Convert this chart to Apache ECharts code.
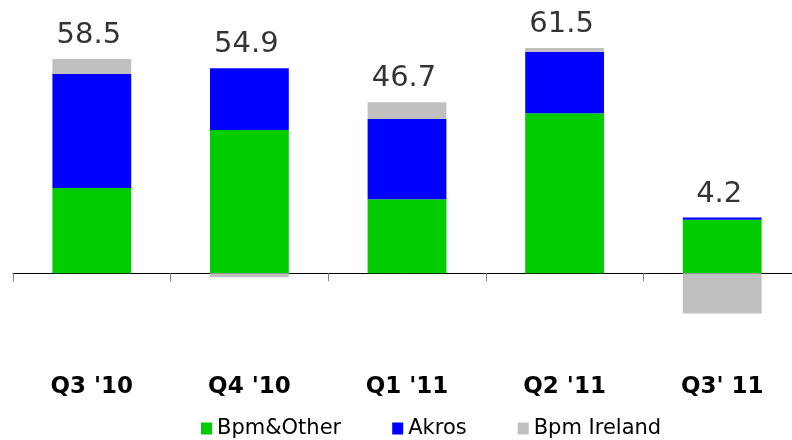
<!DOCTYPE html>
<html>
<head>
<meta charset="utf-8">
<script src="https://cdn.jsdelivr.net/npm/echarts@6/dist/echarts.min.js"></script>
<style>
  html, body { margin: 0; padding: 0; background: #fff; }
  #chart { width: 792px; height: 440px; }
</style>
</head>
<body>
<div id="chart"></div>
<script>
const categories = ["Q3 '10", "Q4 '10", "Q1 '11", "Q2 '11", "Q3' 11"];
const bpmOther = [23.3, 39.1, 20.2, 43.7, 14.6];
const akros = [31.1, 16.9, 21.9, 16.8, 0.6];
const bpmIreland = [4.1, -1.1, 4.6, 1.0, -11.0];
const totals = [58.5, 54.9, 46.7, 61.5, 4.2];

// top of positive stack, where the total label sits
const stackTop = categories.map((c, i) =>
  [bpmOther[i], akros[i], bpmIreland[i]].filter((v) => v > 0).reduce((a, b) => a + b, 0)
);

const font = "DejaVu Sans, Verdana, sans-serif";

function barSeries(name, data, color) {
  return {
    name: name,
    type: "bar",
    stack: "total",
    barWidth: "50%",
    itemStyle: { color: color },
    data: data,
  };
}

const option = {
  animation: false,
  grid: {
    left: 13,
    top: 17,
    width: 788,
    height: 329.4,
    outerBoundsMode: "none",
    containLabel: false,
  },
  legend: {
    data: ["Bpm&Other", "Akros", "Bpm Ireland"],
    left: 196,
    top: 413,
    itemWidth: 11,
    itemHeight: 12,
    itemGap: 51,
    icon: "rect",
    textStyle: {
      fontFamily: font,
      fontSize: 21,
      color: "#000",
    },
  },
  xAxis: {
    type: "category",
    data: categories,
    axisLine: {
      show: true,
      lineStyle: { color: "#000", width: 1 },
    },
    axisTick: {
      show: true,
      length: 8,
      lineStyle: { color: "#808080" },
    },
    axisLabel: {
      margin: 29,
      fontFamily: font,
      fontSize: 23,
      fontWeight: "bold",
      color: "#000",
    },
  },
  yAxis: {
    type: "value",
    min: -20,
    max: 70,
    show: false,
    splitLine: { show: false },
  },
  series: [
    barSeries("Bpm&Other", bpmOther, "#00cc00"),
    barSeries("Akros", akros, "#0000ff"),
    barSeries("Bpm Ireland", bpmIreland, "#c0c0c0"),
    {
      name: "total",
      type: "scatter",
      symbolSize: 0,
      silent: true,
      data: stackTop,
      label: {
        show: true,
        position: "top",
        distance: 9,
        offset: [-3, 0],
        fontFamily: font,
        fontSize: 29,
        color: "#000",
        formatter: (p) => totals[p.dataIndex].toFixed(1),
      },
    },
  ],
};

const chart = echarts.init(document.getElementById("chart"));
chart.setOption(option);
</script>
</body>
</html>
